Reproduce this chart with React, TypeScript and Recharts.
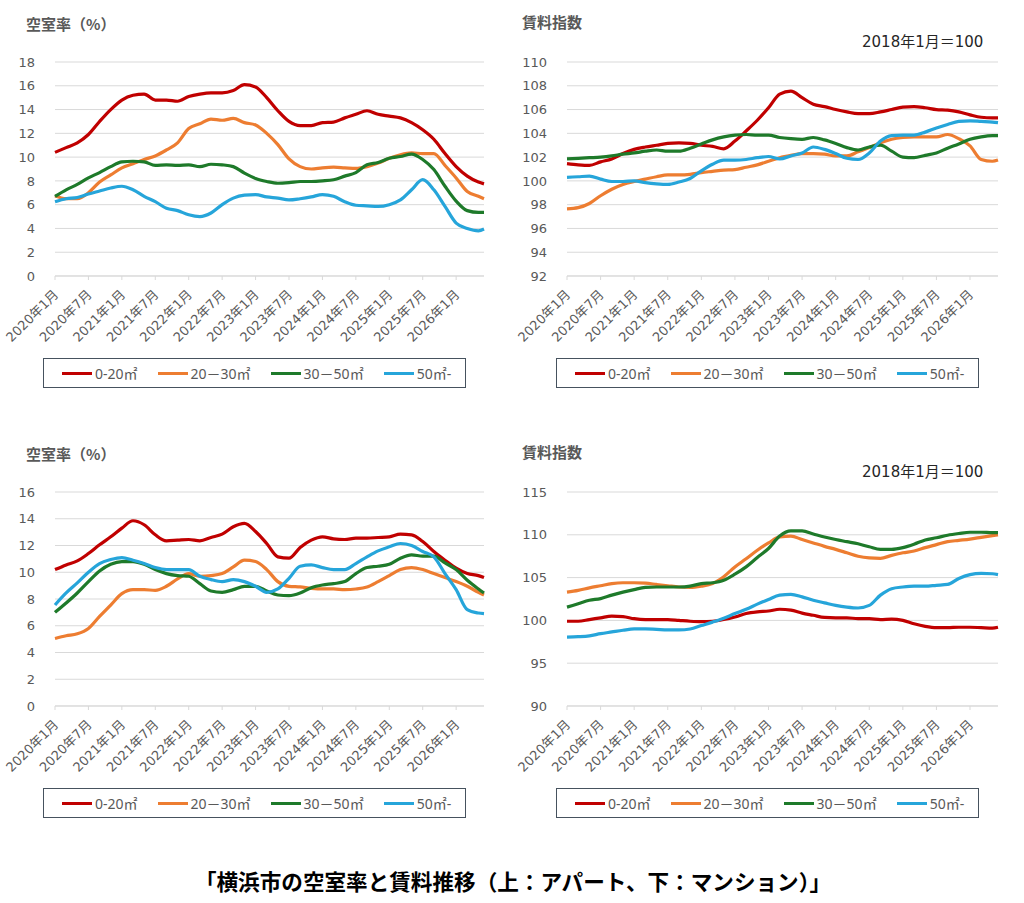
import { LineChart, Line, XAxis, YAxis, CartesianGrid } from "recharts"

const FONT = '"DejaVu Sans", "Noto Sans CJK JP", sans-serif'
const JP = '"Noto Sans CJK JP", sans-serif'

// month index from 2020年1月, sampled every 2 months
const months = [
  0, 2, 4, 6, 8, 10, 12, 14, 16, 18, 20, 22, 24, 26, 28, 30, 32, 34, 36, 38,
  40, 42, 44, 46, 48, 50, 52, 54, 56, 58, 60, 62, 64, 66, 68, 70, 72, 74, 76, 77,
]
const tickMonths = [0, 6, 12, 18, 24, 30, 36, 42, 48, 54, 60, 66, 72]
const tickLabels = [
  "2020年1月", "2020年7月", "2021年1月", "2021年7月", "2022年1月", "2022年7月",
  "2023年1月", "2023年7月", "2024年1月", "2024年7月", "2025年1月", "2025年7月", "2026年1月",
]

const seriesNames = ["0-20㎡", "20－30㎡", "30－50㎡", "50㎡-"]
const seriesColors = ["#C00000", "#ED7D31", "#1E7A2A", "#26A5DA"]

// アパート 空室率
const aptVacancy = [
  [10.4, 10.8, 11.2, 11.9, 13.0, 14.0, 14.8, 15.2, 15.3, 14.8, 14.8, 14.7, 15.1, 15.3, 15.4, 15.4, 15.6, 16.1, 15.9, 15.0,
    13.9, 13.0, 12.65, 12.65, 12.9, 12.95, 13.3, 13.6, 13.9, 13.6, 13.45, 13.3, 12.9, 12.3, 11.5, 10.3, 9.2, 8.4, 7.9, 7.75],
  [6.75, 6.5, 6.5, 7.0, 7.9, 8.5, 9.1, 9.45, 9.8, 10.1, 10.6, 11.2, 12.4, 12.8, 13.2, 13.1, 13.25, 12.9, 12.7, 12.0,
    11.05, 9.85, 9.2, 9.0, 9.1, 9.15, 9.1, 9.05, 9.2, 9.5, 9.9, 10.2, 10.35, 10.3, 10.3, 9.3, 8.25, 7.1, 6.7, 6.5],
  [6.7, 7.25, 7.7, 8.25, 8.7, 9.2, 9.6, 9.65, 9.6, 9.3, 9.35, 9.3, 9.35, 9.2, 9.4, 9.35, 9.2, 8.65, 8.2, 7.95,
    7.8, 7.85, 7.95, 7.95, 8.0, 8.1, 8.4, 8.7, 9.35, 9.55, 9.9, 10.05, 10.25, 9.8, 8.95, 7.55, 6.3, 5.5, 5.35, 5.35],
  [6.25, 6.5, 6.6, 6.9, 7.15, 7.4, 7.55, 7.25, 6.7, 6.25, 5.7, 5.5, 5.15, 5.0, 5.3, 6.0, 6.55, 6.8, 6.85, 6.65,
    6.55, 6.4, 6.5, 6.65, 6.85, 6.7, 6.25, 5.95, 5.9, 5.85, 6.0, 6.4, 7.25, 8.1, 7.25, 5.85, 4.45, 4.0, 3.8, 3.95],
]

// アパート 賃料指数
const aptRent = [
  [101.45, 101.35, 101.3, 101.6, 101.85, 102.3, 102.65, 102.85, 103.0, 103.15, 103.2, 103.15, 103.0, 102.9, 102.7, 103.35, 104.2, 105.1, 106.15, 107.3,
    107.55, 107.0, 106.45, 106.25, 106.0, 105.8, 105.65, 105.65, 105.8, 106.0, 106.2, 106.25, 106.15, 106.0, 105.95, 105.8, 105.55, 105.35, 105.3, 105.3],
  [97.65, 97.75, 98.1, 98.75, 99.3, 99.7, 99.95, 100.15, 100.35, 100.5, 100.5, 100.55, 100.7, 100.8, 100.9, 100.95, 101.15, 101.35, 101.65, 101.95,
    102.15, 102.3, 102.3, 102.25, 102.1, 102.1, 102.45, 102.8, 103.2, 103.5, 103.65, 103.7, 103.7, 103.7, 103.9, 103.55, 102.95, 101.8, 101.65, 101.75],
  [101.85, 101.9, 101.95, 102.0, 102.1, 102.25, 102.35, 102.5, 102.6, 102.5, 102.5, 102.75, 103.1, 103.45, 103.7, 103.85, 103.9, 103.85, 103.85, 103.65,
    103.55, 103.5, 103.65, 103.45, 103.15, 102.8, 102.6, 102.85, 103.0, 102.5, 102.0, 101.95, 102.15, 102.35, 102.75, 103.1, 103.5, 103.7, 103.8, 103.8],
  [100.3, 100.35, 100.4, 100.15, 99.95, 99.95, 100.0, 99.85, 99.75, 99.7, 99.9, 100.2, 100.85, 101.4, 101.75, 101.75, 101.8, 101.95, 102.05, 101.85,
    102.1, 102.35, 102.85, 102.65, 102.3, 101.9, 101.8, 102.35, 103.35, 103.8, 103.85, 103.85, 104.1, 104.45, 104.75, 105.0, 105.05, 105.0, 104.95, 104.9],
]

// マンション 空室率
const mansionVacancy = [
  [10.2, 10.55, 10.85, 11.4, 12.05, 12.65, 13.3, 13.85, 13.55, 12.8, 12.35, 12.4, 12.45, 12.35, 12.6, 12.85, 13.4, 13.65, 13.05, 12.15,
    11.15, 11.05, 11.85, 12.4, 12.65, 12.5, 12.45, 12.55, 12.55, 12.6, 12.65, 12.85, 12.8, 12.3, 11.55, 10.9, 10.3, 9.9, 9.75, 9.6],
  [5.05, 5.25, 5.4, 5.8, 6.7, 7.55, 8.4, 8.7, 8.7, 8.65, 8.95, 9.5, 9.9, 9.7, 9.75, 9.9, 10.4, 10.9, 10.8, 10.2,
    9.3, 8.95, 8.9, 8.8, 8.75, 8.75, 8.7, 8.75, 8.9, 9.3, 9.75, 10.2, 10.35, 10.2, 9.9, 9.6, 9.3, 8.95, 8.5, 8.3],
  [7.0, 7.7, 8.45, 9.3, 10.1, 10.6, 10.8, 10.8, 10.6, 10.2, 9.9, 9.75, 9.7, 9.15, 8.6, 8.5, 8.7, 8.95, 8.95, 8.6,
    8.3, 8.25, 8.45, 8.85, 9.05, 9.15, 9.3, 9.9, 10.35, 10.45, 10.6, 11.05, 11.3, 11.2, 11.2, 10.7, 10.2, 9.4, 8.75, 8.45],
  [7.55, 8.45, 9.2, 10.0, 10.65, 10.95, 11.1, 10.9, 10.65, 10.35, 10.2, 10.2, 10.2, 9.7, 9.45, 9.3, 9.45, 9.3, 8.95, 8.5,
    8.75, 9.55, 10.45, 10.55, 10.35, 10.2, 10.2, 10.65, 11.15, 11.6, 11.9, 12.15, 12.0, 11.55, 11.15, 9.9, 8.7, 7.2, 6.95, 6.9],
]

// マンション 賃料指数
const mansionRent = [
  [99.9, 99.9, 100.1, 100.3, 100.5, 100.45, 100.2, 100.1, 100.1, 100.1, 100.0, 99.9, 99.85, 99.9, 100.1, 100.4, 100.8, 101.0, 101.1, 101.3,
    101.2, 100.85, 100.6, 100.35, 100.3, 100.3, 100.2, 100.2, 100.1, 100.15, 100.0, 99.6, 99.3, 99.15, 99.15, 99.2, 99.2, 99.15, 99.1, 99.2],
  [103.3, 103.5, 103.8, 104.05, 104.3, 104.4, 104.4, 104.35, 104.2, 104.05, 103.9, 103.85, 104.0, 104.3, 105.1, 106.25, 107.2, 108.2, 109.05, 109.75,
    109.85, 109.45, 109.05, 108.65, 108.3, 107.9, 107.5, 107.3, 107.25, 107.6, 107.9, 108.1, 108.5, 108.85, 109.2, 109.35, 109.5, 109.7, 109.9, 110.0],
  [101.55, 101.95, 102.35, 102.55, 102.95, 103.3, 103.6, 103.85, 103.9, 103.9, 103.9, 104.0, 104.3, 104.4, 104.7, 105.4, 106.25, 107.35, 108.4, 109.85,
    110.45, 110.45, 110.1, 109.75, 109.45, 109.2, 108.95, 108.6, 108.3, 108.3, 108.5, 108.9, 109.4, 109.65, 109.95, 110.15, 110.3, 110.3, 110.25, 110.25],
  [98.05, 98.1, 98.2, 98.45, 98.65, 98.85, 99.0, 99.0, 98.95, 98.9, 98.9, 99.0, 99.4, 99.8, 100.25, 100.8, 101.3, 101.9, 102.45, 102.95,
    103.05, 102.75, 102.35, 102.05, 101.75, 101.55, 101.45, 101.75, 102.95, 103.7, 103.9, 104.0, 104.0, 104.1, 104.2, 104.9, 105.35, 105.5, 105.45, 105.35],
]

const vacancyTicksApt = [0, 2, 4, 6, 8, 10, 12, 14, 16, 18]
const rentTicksApt = [92, 94, 96, 98, 100, 102, 104, 106, 108, 110]
const vacancyTicksMansion = [0, 2, 4, 6, 8, 10, 12, 14, 16]
const rentTicksMansion = [90, 95, 100, 105, 110, 115]

function buildRows(series: number[][]) {
  return months.map((m, i) => {
    const row: Record<string, number> = { m }
    series.forEach((s, k) => {
      row["s" + k] = s[i]
    })
    return row
  })
}

const MonthTick = ({ x, y, payload }: any) => (
  <g transform={`translate(${x + 1},${y + 12})`}>
    <text
      textAnchor="end"
      dy="0.35em"
      transform="rotate(-45)"
      fill="#595959"
      fontSize={13}
      fontFamily={FONT}
    >
      {tickLabels[tickMonths.indexOf(payload.value)]}
    </text>
  </g>
)

interface PanelProps {
  left: number
  top: number
  right: boolean
  title: string
  note?: string
  series: number[][]
  yTicks: number[]
}

function Panel({ left, top, right, title, note, series, yTicks }: PanelProps) {
  const rows = buildRows(series)
  return (
    <>
      <div
        style={{
          position: "absolute",
          left: left + (right ? 10 : 26),
          top: top + (right ? 14 : 16),
          fontFamily: JP,
          fontSize: 15,
          lineHeight: "16px",
          fontWeight: 700,
          color: "#595959",
          whiteSpace: "nowrap",
        }}
      >
        {title}
      </div>
      {note && (
        <div
          style={{
            position: "absolute",
            left: left + 350,
            top: top + 32,
            fontFamily: FONT,
            fontSize: 15,
            lineHeight: "20px",
            color: "#262626",
            whiteSpace: "nowrap",
          }}
        >
          {note}
        </div>
      )}
      <div style={{ position: "absolute", left, top }}>
        <LineChart
          width={500}
          height={372}
          data={rows}
          margin={{ top: 62, right: right ? 14 : 16, bottom: 32, left: 0 }}
        >
          <CartesianGrid vertical={false} stroke="#D9D9D9" />
          <XAxis
            dataKey="m"
            type="number"
            domain={[0, 77]}
            ticks={tickMonths}
            interval={0}
            height={64}
            stroke="#D9D9D9"
            tickSize={4}
            tickMargin={0}
            tick={<MonthTick />}
          />
          <YAxis
            width={55}
            domain={[yTicks[0], yTicks[yTicks.length - 1]]}
            ticks={yTicks}
            interval={0}
            axisLine={false}
            tickLine={false}
            tickSize={0}
            tickMargin={20}
            tick={{ fill: "#595959", fontSize: 13, fontFamily: FONT }}
          />
          {series.map((_, k) => (
            <Line
              key={k}
              type="monotone"
              dataKey={"s" + k}
              stroke={seriesColors[k]}
              strokeWidth={3.2}
              dot={false}
              isAnimationActive={false}
            />
          ))}
        </LineChart>
      </div>
      <div
        style={{
          position: "absolute",
          left: left + (right ? 44 : 43),
          top: top + 358,
          width: 423,
          height: 30,
          boxSizing: "border-box",
          border: "1.5px solid #46525E",
          display: "flex",
          alignItems: "center",
          paddingLeft: 18,
          gap: 20,
          fontFamily: '"Noto Sans", "Noto Sans CJK JP", sans-serif',
          fontSize: 14,
          color: "#595959",
          whiteSpace: "nowrap",
          background: "#FFFFFF",
        }}
      >
        {seriesNames.map((name, k) => (
          <div key={name} style={{ display: "flex", alignItems: "center" }}>
            <div style={{ width: 30, height: 3, background: seriesColors[k], marginRight: 3 }} />
            <span>{name}</span>
          </div>
        ))}
      </div>
    </>
  )
}

export default function App() {
  return (
    <div
      style={{
        position: "absolute",
        left: 0,
        top: 0,
        width: 1024,
        height: 903,
        background: "#FFFFFF",
        overflow: "hidden",
      }}
    >
      <Panel left={0} top={0} right={false} title="空室率（%）" series={aptVacancy} yTicks={vacancyTicksApt} />
      <Panel left={512} top={0} right title="賃料指数" note="2018年1月＝100" series={aptRent} yTicks={rentTicksApt} />
      <Panel left={0} top={430} right={false} title="空室率（%）" series={mansionVacancy} yTicks={vacancyTicksMansion} />
      <Panel left={512} top={430} right title="賃料指数" note="2018年1月＝100" series={mansionRent} yTicks={rentTicksMansion} />
      <div
        style={{
          position: "absolute",
          left: 0,
          top: 869,
          width: 1026,
          textAlign: "center",
          fontFamily: JP,
          fontSize: 21.6,
          lineHeight: "24px",
          fontWeight: 700,
          color: "#000000",
        }}
      >
        「横浜市の空室率と賃料推移（上：アパート、下：マンション）」
      </div>
    </div>
  )
}
